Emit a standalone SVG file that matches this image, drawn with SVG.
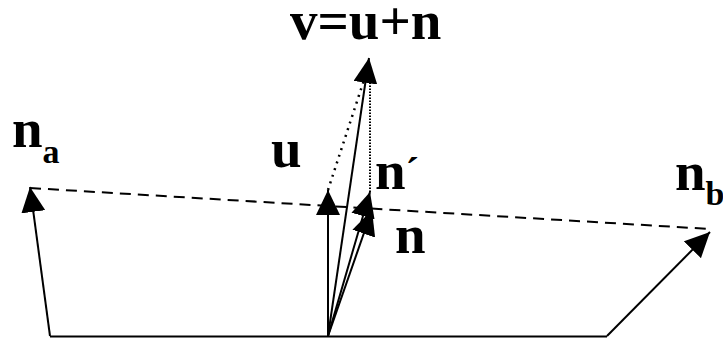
<svg xmlns="http://www.w3.org/2000/svg" width="723" height="338" viewBox="0 0 723 338">
<style>
.lbl{font-family:"Liberation Serif","Times New Roman",serif;font-weight:bold;font-size:55px;fill:#000}
.sub{font-size:34px}
.vec{stroke:#000;stroke-width:2;fill:none;marker-end:url(#ah)}
.solid{stroke:#000;stroke-width:2;fill:none}
.dash{stroke:#000;stroke-width:2;fill:none;stroke-dasharray:11 7}
.dot{stroke:#000;stroke-width:2;fill:none;stroke-dasharray:1.5 1.5}
.dot2{stroke:#000;stroke-width:2.5;fill:none;stroke-dasharray:2 5}
</style>
<defs>
<marker id="ah" markerUnits="userSpaceOnUse" viewBox="0 0 25 24" markerWidth="25" markerHeight="24" refX="25" refY="12" orient="auto">
<path d="M0,0 L25,12 L0,24 z" fill="#000"/>
</marker>
</defs>
<rect width="723" height="338" fill="#fff"/>
<g id="connectors">
<line class="solid" x1="50" y1="336.5" x2="607" y2="336.5"/>
<line class="dash" x1="30" y1="188" x2="710" y2="229"/>
<line class="dot2" x1="328" y1="190" x2="364" y2="80"/>
<line class="dot" x1="370" y1="192" x2="370" y2="80"/>
<line id="v-na" class="vec" x1="50" y1="336" x2="30" y2="187"/>
<line id="v-u" class="vec" x1="328" y1="336" x2="328" y2="190"/>
<line id="v-n" class="vec" x1="328" y1="336" x2="372" y2="210"/>
<line id="v-nprime" class="vec" x1="328" y1="336" x2="370" y2="192"/>
<line id="v-v" class="vec" x1="328" y1="336" x2="369" y2="58"/>
<line id="v-nb" class="vec" x1="607" y1="336" x2="710" y2="232"/>
</g>
<g id="label-v"><text class="lbl" x="290" y="39">v=u+n</text></g>
<g id="label-u"><text class="lbl" x="271" y="167">u</text></g>
<g id="label-nprime"><text class="lbl" x="375" y="189">n<tspan font-size="40" dy="-4">´</tspan></text></g>
<g id="label-n"><text class="lbl" x="395" y="253">n</text></g>
<g id="label-na"><text class="lbl" x="12" y="147">n<tspan class="sub" dy="16">a</tspan></text></g>
<g id="label-nb"><text class="lbl" x="675" y="190">n<tspan class="sub" dy="15">b</tspan></text></g>
</svg>
